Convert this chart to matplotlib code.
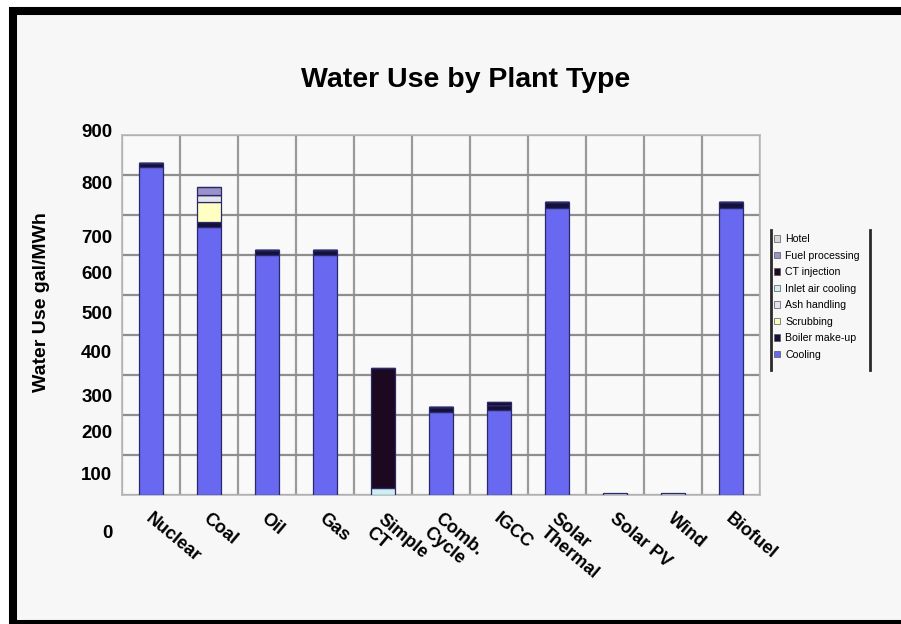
import matplotlib
matplotlib.use("Agg")
import matplotlib.pyplot as plt
import matplotlib.transforms as mtransforms
from matplotlib.patches import Rectangle, Patch
from matplotlib.lines import Line2D
import numpy as np

# ---- data (gal/MWh) ----
categories = ['Nuclear', 'Coal', 'Oil', 'Gas', 'Simple\nCT', 'Comb.\nCycle',
              'IGCC', 'Solar\nThermal', 'Solar PV', 'Wind', 'Biofuel']
cooling           = [820, 670, 600, 600,   0, 208, 212, 718, 0, 0, 718]
boiler_makeup     = [ 10,  12,  12,  12,   0,  13,  12,  14, 0, 0,  14]
scrubbing         = [  0,  50,   0,   0,   0,   0,   0,   0, 0, 0,   0]
ash_handling      = [  0,  18,   0,   0,   0,   0,   0,   0, 0, 0,   0]
inlet_air_cooling = [  0,   0,   0,   0,  17,   0,   0,   0, 0, 0,   0]
ct_injection      = [  0,   0,   0,   0, 300,   0,   8,   0, 0, 0,   0]
fuel_processing   = [  0,  20,   0,   0,   0,   0,   0,   0, 0, 0,   0]
hotel             = [  0,   0,   0,   0,   0,   0,   0,   0, 4, 4,   0]
y_ticks = [0, 100, 200, 300, 400, 500, 600, 700, 800, 900]

series = [
    ('Cooling', cooling, '#6868F0'),
    ('Boiler make-up', boiler_makeup, '#15103A'),
    ('Scrubbing', scrubbing, '#FFFFC4'),
    ('Ash handling', ash_handling, '#E4E4EE'),
    ('Inlet air cooling', inlet_air_cooling, '#CDEFEF'),
    ('CT injection', ct_injection, '#1C0820'),
    ('Fuel processing', fuel_processing, '#9A92C8'),
    ('Hotel', hotel, '#D6D6DA'),
]

W, H = 901, 624
fig = plt.figure(figsize=(W / 100, H / 100), dpi=100, facecolor='white')
plt.rcParams['font.family'] = ['Liberation Sans', 'DejaVu Sans']

# outer frame: grey panel with a heavy black border (right edge runs off the page)
frame = Rectangle((13 / W, 0.0), 1.05, (H - 11) / H, transform=fig.transFigure,
                  facecolor='#F7F7F7', edgecolor='black', linewidth=5.8, zorder=-10)
fig.patches.append(frame)

ax = fig.add_axes([122 / W, 129 / H, 638 / W, 360 / H])
ax.set_facecolor('#F9F9F9')

x = np.arange(len(categories))
bottom = np.zeros(len(categories))
for name, vals, col in series:
    vals = np.asarray(vals, dtype=float)
    ax.bar(x, vals, width=0.42, bottom=bottom, color=col, edgecolor='#2A2A6A',
           linewidth=0.9, zorder=3, label=name)
    bottom += vals

ax.set_xlim(-0.5, len(categories) - 0.5)
ax.set_ylim(0, 900)

# gridlines: horizontal at every 100, vertical between categories
ax.set_yticks(y_ticks)
ax.set_xticks(x)
ax.set_xticks(np.arange(-0.5, len(categories), 1.0), minor=True)
ax.grid(True, axis='y', which='major', color='#8E8E8E', linewidth=1.6, zorder=0)
ax.grid(True, axis='x', which='minor', color='#9A9A9A', linewidth=1.6, zorder=0)
ax.set_axisbelow(True)
for s in ax.spines.values():
    s.set_color('#B8B8B8')
    s.set_linewidth(1.2)

ax.tick_params(axis='both', which='both', length=0)
ax.tick_params(axis='y', pad=7)
ax.tick_params(axis='x', pad=9)
ax.set_yticklabels([str(v) for v in y_ticks], fontsize=13.5, fontweight='bold')
ax.set_xticklabels(categories, fontsize=13, fontweight='bold', rotation=-40,
                   ha='left', va='top', rotation_mode='anchor',
                   linespacing=1.05)

# the value labels sit a little below their gridlines
label_shift_px = [37, 18, 17, 20, 17, 17, 17, 21, 7, -5]
for lab, dy in zip(ax.get_yticklabels(), label_shift_px):
    lab.set_transform(lab.get_transform() +
                      mtransforms.ScaledTranslation(0, -dy / 100, fig.dpi_scale_trans))
for lab in ax.get_xticklabels():
    lab.set_transform(lab.get_transform() +
                      mtransforms.ScaledTranslation(2 / 100, -3 / 100, fig.dpi_scale_trans))

fig.text(466 / W, (H - 80) / H, 'Water Use by Plant Type', ha='center',
         va='center', fontsize=20.5, fontweight='bold')
fig.text(42 / W, (H - 302) / H, 'Water Use gal/MWh', ha='center', va='center',
         rotation=90, fontsize=14, fontweight='bold')

# legend, top series first
handles = [Patch(facecolor=c, edgecolor='#555555', linewidth=0.5, label=n)
           for n, _, c in reversed(series)]
leg = fig.legend(handles=handles, loc='upper left',
                 bbox_to_anchor=(772 / W, (H - 232) / H),
                 frameon=False, fontsize=7.6, labelspacing=0.62,
                 handlelength=0.55, handleheight=0.55, handletextpad=0.5,
                 borderaxespad=0, borderpad=0.2)
for ln_x in (771, 870):
    fig.add_artist(Line2D([ln_x / W, ln_x / W], [(H - 230) / H, (H - 370) / H],
                          transform=fig.transFigure, color='#2A2A2A', linewidth=2))

fig.savefig('out.png', dpi=100, facecolor=fig.get_facecolor())
